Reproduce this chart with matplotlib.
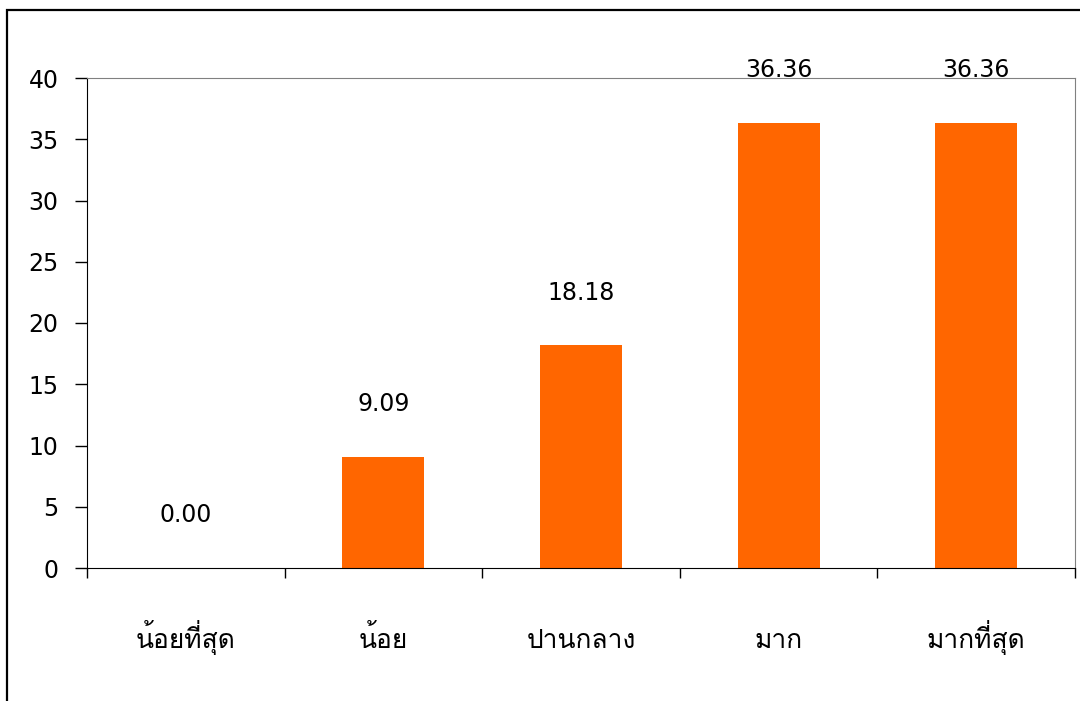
import numpy as np
import matplotlib
matplotlib.use("Agg")
import matplotlib.pyplot as plt
from matplotlib import font_manager
from matplotlib.ft2font import FT2Font
from matplotlib.patches import Rectangle

categories = ["น้อยที่สุด", "น้อย", "ปานกลาง", "มาก", "มากที่สุด"]
values = [0.00, 9.09, 18.18, 36.36, 36.36]
yticks = [0, 5, 10, 15, 20, 25, 30, 35, 40]

# look for any installed font with Thai glyphs
thai_font = None
for f in font_manager.fontManager.ttflist:
    try:
        if 0x0E19 in FT2Font(f.fname).get_charmap():
            thai_font = f.name
            break
    except Exception:
        pass

fams = ["DejaVu Sans"]
if thai_font:
    fams = ["DejaVu Sans", thai_font]
plt.rcParams["font.family"] = fams

fig = plt.figure(figsize=(10.8, 7.01), dpi=100)
fig.patches.append(Rectangle((7 / 1080, -0.1), 1.2, 1.1 - 10 / 701, transform=fig.transFigure,
                             fill=False, edgecolor="black", linewidth=1.6))
ax = fig.add_axes([87 / 1080, 1 - 568 / 701, 988 / 1080, 490 / 701])

x = np.arange(len(categories))
ax.bar(x, values, width=0.415, color="#ff6600")
for xi, v in zip(x, values):
    ax.annotate(f"{v:.2f}", (xi, v), xytext=(0, 38), textcoords="offset points",
                ha="center", va="center", fontsize=17)

ax.set_xlim(-0.5, len(categories) - 0.5)
ax.set_ylim(0, 40)
ax.set_yticks(yticks)
ax.tick_params(axis="y", length=8.6, width=1, pad=12, labelsize=17)

ax.set_xticks(np.arange(len(categories) + 1) - 0.5)
ax.set_xticklabels([])
ax.tick_params(axis="x", which="major", direction="out", length=7, width=1)

# category names sit on a common baseline below the axis
for xi, name in zip(x, categories):
    ax.text(xi, -80 / 490, name, transform=ax.get_xaxis_transform(),
            ha="center", va="baseline", fontsize=19, family=fams[::-1])

ax.spines["top"].set_color("#808080")
ax.spines["right"].set_color("#808080")
ax.spines["left"].set_color("black")
ax.spines["bottom"].set_color("black")

fig.savefig("out.png", dpi=100)
